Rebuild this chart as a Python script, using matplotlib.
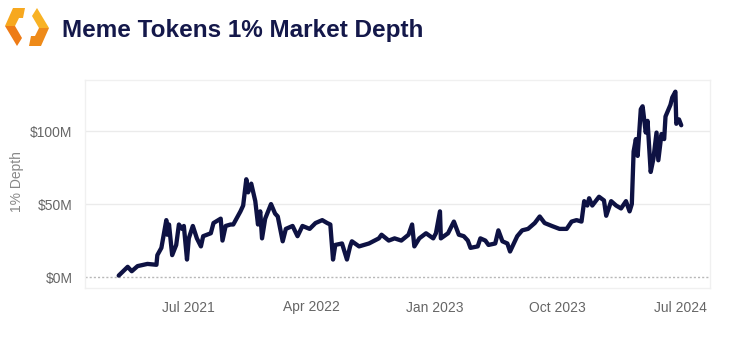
import matplotlib
matplotlib.use("Agg")
import matplotlib.pyplot as plt
from matplotlib.patches import Polygon
import pandas as pd

plt.rcParams['font.family'] = ['Liberation Sans', 'DejaVu Sans']

title = "Meme Tokens 1% Market Depth"
y_label = "1% Depth"

dates = [
    "2021-01-28", "2021-02-17", "2021-02-26", "2021-03-11", "2021-04-02", "2021-04-22",
    "2021-04-24", "2021-05-03", "2021-05-14", "2021-05-16", "2021-05-20", "2021-05-27",
    "2021-06-05", "2021-06-11", "2021-06-18", "2021-06-22", "2021-06-29", "2021-07-03",
    "2021-07-12", "2021-07-21", "2021-07-30", "2021-08-04", "2021-08-21", "2021-08-27",
    "2021-09-12", "2021-09-16", "2021-09-23", "2021-10-04", "2021-10-10", "2021-10-26",
    "2021-11-01", "2021-11-08", "2021-11-12", "2021-11-19", "2021-11-28", "2021-12-04",
    "2021-12-09", "2021-12-13", "2021-12-20", "2022-01-02", "2022-01-11", "2022-01-17",
    "2022-01-28", "2022-02-04", "2022-02-19", "2022-03-02", "2022-03-13", "2022-03-29",
    "2022-04-11", "2022-04-26", "2022-05-07", "2022-05-14", "2022-05-20", "2022-05-25",
    "2022-06-09", "2022-06-20", "2022-06-27", "2022-07-01", "2022-07-17", "2022-08-08",
    "2022-08-30", "2022-09-05", "2022-09-21", "2022-10-04", "2022-10-19", "2022-11-04",
    "2022-11-12", "2022-11-17", "2022-11-28", "2022-12-13", "2022-12-29", "2023-01-04",
    "2023-01-13", "2023-01-15", "2023-01-31", "2023-02-13", "2023-02-24", "2023-03-07",
    "2023-03-16", "2023-03-22", "2023-04-07", "2023-04-13", "2023-04-24", "2023-05-01",
    "2023-05-16", "2023-05-23", "2023-06-01", "2023-06-12", "2023-06-18", "2023-07-04",
    "2023-07-15", "2023-07-28", "2023-08-12", "2023-08-23", "2023-09-03", "2023-09-19",
    "2023-10-06", "2023-10-22", "2023-11-02", "2023-11-13", "2023-11-24", "2023-11-30",
    "2023-12-07", "2023-12-11", "2023-12-18", "2024-01-02", "2024-01-13", "2024-01-18",
    "2024-01-29", "2024-02-09", "2024-02-20", "2024-03-02", "2024-03-10", "2024-03-15",
    "2024-03-19", "2024-03-24", "2024-03-28", "2024-04-04", "2024-04-08", "2024-04-15",
    "2024-04-19", "2024-04-26", "2024-05-02", "2024-05-09", "2024-05-13", "2024-05-20",
    "2024-05-26", "2024-05-29", "2024-06-09", "2024-06-13", "2024-06-20", "2024-06-22",
    "2024-06-28", "2024-07-03",
]
depth_musd = [
    1, 7, 4, 7.5, 9, 8.4,
    15, 20, 39, 29, 36, 15,
    22, 36, 33, 35, 12, 26.5,
    35, 26.5, 21, 28, 30, 37,
    40, 25, 35, 36, 36, 45,
    49, 67, 58, 64, 52, 36,
    45, 26.5, 40, 50, 43.5, 41.5,
    24.5, 33, 35, 28, 35, 33,
    37, 39, 37, 36, 12, 22,
    23, 12, 21, 24.5, 21, 23,
    26.5, 29, 25, 26.5, 25, 29,
    36, 21, 26.5, 30, 26.5, 30,
    45, 26.5, 30, 38, 29, 28,
    25, 20, 21, 26.5, 25, 22,
    23, 32, 24.5, 23, 17.5, 28,
    32, 33, 37, 41.5, 37, 35,
    33, 33, 38, 39, 38, 52,
    49, 54, 49, 55, 52.5, 42,
    52, 49, 47, 52, 45, 50,
    86, 94.5, 83, 115, 117, 99,
    107, 72, 81, 99, 80, 98,
    94.5, 110, 118, 123, 127, 105,
    108, 104,
]

y_ticks = [0, 50, 100]
y_tick_labels = ["$0M", "$50M", "$100M"]
x_ticks = ["2021-07-01", "2022-04-01", "2023-01-01", "2023-10-01", "2024-07-01"]
x_tick_labels = ["Jul 2021", "Apr 2022", "Jan 2023", "Oct 2023", "Jul 2024"]

W, H = 745, 345
fig = plt.figure(figsize=(W / 100, H / 100), dpi=100)
fig.patch.set_facecolor("white")
ax = fig.add_axes([85 / W, 1 - 288 / H, (710 - 85) / W, (288 - 80) / H])

x = pd.to_datetime(dates)
ax.plot(x, depth_musd, color="#0e1243", lw=3.1, solid_joinstyle="round",
        solid_capstyle="round", zorder=3)

ax.set_xlim(pd.Timestamp("2020-11-14"), pd.Timestamp("2024-09-05"))
ax.set_ylim(-7.5, 135)

ax.set_yticks(y_ticks)
ax.set_yticklabels(y_tick_labels)
ax.set_xticks(pd.to_datetime(x_ticks))
ax.set_xticklabels(x_tick_labels)
ax.tick_params(axis="both", length=0, labelsize=10, colors="#666666")
ax.tick_params(axis="y", pad=9)
ax.tick_params(axis="x", pad=9)

for v in y_ticks[1:]:
    ax.axhline(v, color="#ebebeb", lw=1.0, zorder=1)
ax.axhline(0, color="#b8b8b8", lw=1.0, ls=(0, (1.5, 1.5)), zorder=1)

for s in ax.spines.values():
    s.set_color("#f0f0f0")
    s.set_linewidth(1.0)

fig.text(17 / W, 1 - 182 / H, y_label, rotation=90, ha="center", va="center",
         fontsize=10, color="#888888")

fig.text(62 / W, 1 - 37 / H, title, fontsize=17.5, fontweight="bold",
         color="#14184a", ha="left", va="baseline")


# logo
def px(pts):
    return [(a / W, 1 - b / H) for a, b in pts]


def mirror(pts):
    return [(54 - a, 54 - b) for a, b in pts]


left_upper = [(25, 8), (13, 8), (5, 26), (15, 26), (19, 18), (23, 18)]
left_lower = [(5, 26), (15, 26), (22, 38), (17, 46)]
logo_parts = [
    (left_upper, "#f7a81f"),
    (left_lower, "#ee7b16"),
    (mirror(left_upper), "#ee8a19"),
    (mirror(left_lower), "#f8b224"),
]
for pts, col in logo_parts:
    fig.patches.append(Polygon(px(pts), closed=True, transform=fig.transFigure,
                               facecolor=col, edgecolor="none"))

fig.savefig("out.png", dpi=100, facecolor="white")
